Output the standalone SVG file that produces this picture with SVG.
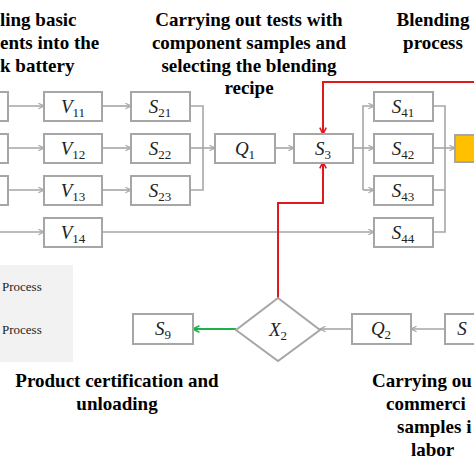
<svg xmlns="http://www.w3.org/2000/svg" width="474" height="474" viewBox="0 0 474 474">
<style>
.box{fill:#fff;stroke:#A6A6A6;stroke-width:2}
.ln{fill:none;stroke:#A6A6A6;stroke-width:1.6}
.red{fill:none;stroke:#E0191E;stroke-width:2}
.grn{fill:none;stroke:#1FAF4B;stroke-width:2}
.m{font-style:italic;font-size:19px;fill:#222;text-anchor:middle}
.sub{font-style:normal;font-size:13px}
</style>
<defs>
<marker id="ag" viewBox="0 0 10 10" refX="9" refY="5" markerWidth="7" markerHeight="7" markerUnits="userSpaceOnUse" orient="auto"><path d="M1,1 L9,5 L1,9" fill="none" stroke="#A6A6A6" stroke-width="1.6"/></marker>
<marker id="ar" viewBox="0 0 10 10" refX="9" refY="5" markerWidth="8" markerHeight="8" markerUnits="userSpaceOnUse" orient="auto"><path d="M1,1 L9,5 L1,9" fill="none" stroke="#E0191E" stroke-width="2"/></marker>
<marker id="an" viewBox="0 0 10 10" refX="9" refY="5" markerWidth="8" markerHeight="8" markerUnits="userSpaceOnUse" orient="auto"><path d="M1,1 L9,5 L1,9" fill="none" stroke="#1FAF4B" stroke-width="2"/></marker>
</defs>
<rect width="474" height="474" fill="#fff"/>

<g id="titles" font-family="'Liberation Serif', 'Times New Roman', serif" font-weight="bold" font-size="19" fill="#000">
<text x="0" y="26">ling basic</text>
<text x="0" y="49">ents into the</text>
<text x="0" y="72">k battery</text>
<text text-anchor="middle" x="249" y="26">Carrying out tests with</text>
<text text-anchor="middle" x="249" y="49">component samples and</text>
<text text-anchor="middle" x="249" y="72">selecting the blending</text>
<text text-anchor="middle" x="249" y="94">recipe</text>
<text text-anchor="middle" x="433" y="26">Blending</text>
<text text-anchor="middle" x="433" y="49">process</text>
<text text-anchor="middle" x="117" y="387">Product certification and</text>
<text text-anchor="middle" x="117" y="410">unloading</text>
<text x="372" y="387">Carrying ou</text>
<text x="386" y="410">commerci</text>
<text x="397" y="433">samples i</text>
<text x="411" y="456">labor</text>
</g>

<g id="legend">
<rect x="0" y="265" width="73" height="97" fill="#F2F2F2"/>
<g font-family="'Liberation Serif', 'Times New Roman', serif" font-size="13" fill="#222">
<text x="2" y="291">Process</text>
<text x="2" y="334">Process</text>
</g>
</g>

<g id="connectors">
<path class="ln" d="M8,106 H44" marker-end="url(#ag)"/>
<path class="ln" d="M8,148 H44" marker-end="url(#ag)"/>
<path class="ln" d="M8,190 H44" marker-end="url(#ag)"/>
<path class="ln" d="M0,232 H44" marker-end="url(#ag)"/>
<path class="ln" d="M102,106 H131" marker-end="url(#ag)"/>
<path class="ln" d="M102,148 H131" marker-end="url(#ag)"/>
<path class="ln" d="M102,190 H131" marker-end="url(#ag)"/>
<path class="ln" d="M102,232 H374" marker-end="url(#ag)"/>
<path class="ln" d="M190,106 H203 V190 H190"/>
<path class="ln" d="M190,148 H215" marker-end="url(#ag)"/>
<path class="ln" d="M275,148 H294" marker-end="url(#ag)"/>
<path class="ln" d="M353,148 H374" marker-end="url(#ag)"/>
<path class="ln" d="M363,190 V106 H374" marker-end="url(#ag)"/>
<path class="ln" d="M363,190 H374" marker-end="url(#ag)"/>
<path class="ln" d="M433,106 H445 V232 H433"/>
<path class="ln" d="M433,190 H445"/>
<path class="ln" d="M433,148 H455" marker-end="url(#ag)"/>
<path class="ln" d="M445,329 H411" marker-end="url(#ag)"/>
<path class="ln" d="M352,329 H320" marker-end="url(#ag)"/>
<path class="grn" d="M236,329 H193" marker-end="url(#an)"/>
<path class="red" d="M474,82 H323 V134" marker-end="url(#ar)"/>
<path class="red" d="M278,298 V203 H323 V162" marker-end="url(#ar)"/>
</g>

<g font-family="'Liberation Serif', 'Times New Roman', serif">
<g id="p1"><rect class="box" x="-10" y="92" width="18" height="29"/></g>
<g id="p2"><rect class="box" x="-10" y="134" width="18" height="29"/></g>
<g id="p3"><rect class="box" x="-10" y="176" width="18" height="29"/></g>

<g id="V11"><rect class="box" x="44" y="92" width="58" height="29"/><text class="m" x="73" y="113">V<tspan class="sub" dy="4">11</tspan></text></g>
<g id="V12"><rect class="box" x="44" y="134" width="58" height="29"/><text class="m" x="73" y="155">V<tspan class="sub" dy="4">12</tspan></text></g>
<g id="V13"><rect class="box" x="44" y="176" width="58" height="29"/><text class="m" x="73" y="197">V<tspan class="sub" dy="4">13</tspan></text></g>
<g id="V14"><rect class="box" x="44" y="218" width="58" height="29"/><text class="m" x="73" y="239">V<tspan class="sub" dy="4">14</tspan></text></g>

<g id="S21"><rect class="box" x="131" y="92" width="59" height="29"/><text class="m" x="160" y="113">S<tspan class="sub" dy="4">21</tspan></text></g>
<g id="S22"><rect class="box" x="131" y="134" width="59" height="29"/><text class="m" x="160" y="155">S<tspan class="sub" dy="4">22</tspan></text></g>
<g id="S23"><rect class="box" x="131" y="176" width="59" height="29"/><text class="m" x="160" y="197">S<tspan class="sub" dy="4">23</tspan></text></g>

<g id="Q1"><rect class="box" x="215" y="134" width="60" height="29"/><text class="m" x="245" y="155">Q<tspan class="sub" dy="4">1</tspan></text></g>
<g id="S3"><rect class="box" x="294" y="134" width="59" height="29"/><text class="m" x="323" y="155">S<tspan class="sub" dy="4">3</tspan></text></g>

<g id="S41"><rect class="box" x="374" y="92" width="59" height="29"/><text class="m" x="403" y="113">S<tspan class="sub" dy="4">41</tspan></text></g>
<g id="S42"><rect class="box" x="374" y="134" width="59" height="29"/><text class="m" x="403" y="155">S<tspan class="sub" dy="4">42</tspan></text></g>
<g id="S43"><rect class="box" x="374" y="176" width="59" height="29"/><text class="m" x="403" y="197">S<tspan class="sub" dy="4">43</tspan></text></g>
<g id="S44"><rect class="box" x="374" y="218" width="59" height="29"/><text class="m" x="403" y="239">S<tspan class="sub" dy="4">44</tspan></text></g>

<g id="orange"><rect x="455" y="135" width="30" height="27" fill="#FFC000" stroke="#A6A6A6" stroke-width="2"/></g>

<g id="X2"><polygon points="278,298 320,330 278,361 236,330" fill="#fff" stroke="#A6A6A6" stroke-width="2"/><text class="m" x="278" y="336">X<tspan class="sub" dy="4">2</tspan></text></g>
<g id="Q2"><rect class="box" x="352" y="314" width="59" height="30"/><text class="m" x="381" y="335">Q<tspan class="sub" dy="4">2</tspan></text></g>
<g id="S5"><rect class="box" x="445" y="314" width="40" height="30"/><text class="m" x="462" y="335" text-anchor="start">S</text></g>
<g id="S9"><rect class="box" x="133" y="314" width="60" height="30"/><text class="m" x="163" y="335">S<tspan class="sub" dy="4">9</tspan></text></g>
</g>
</svg>
